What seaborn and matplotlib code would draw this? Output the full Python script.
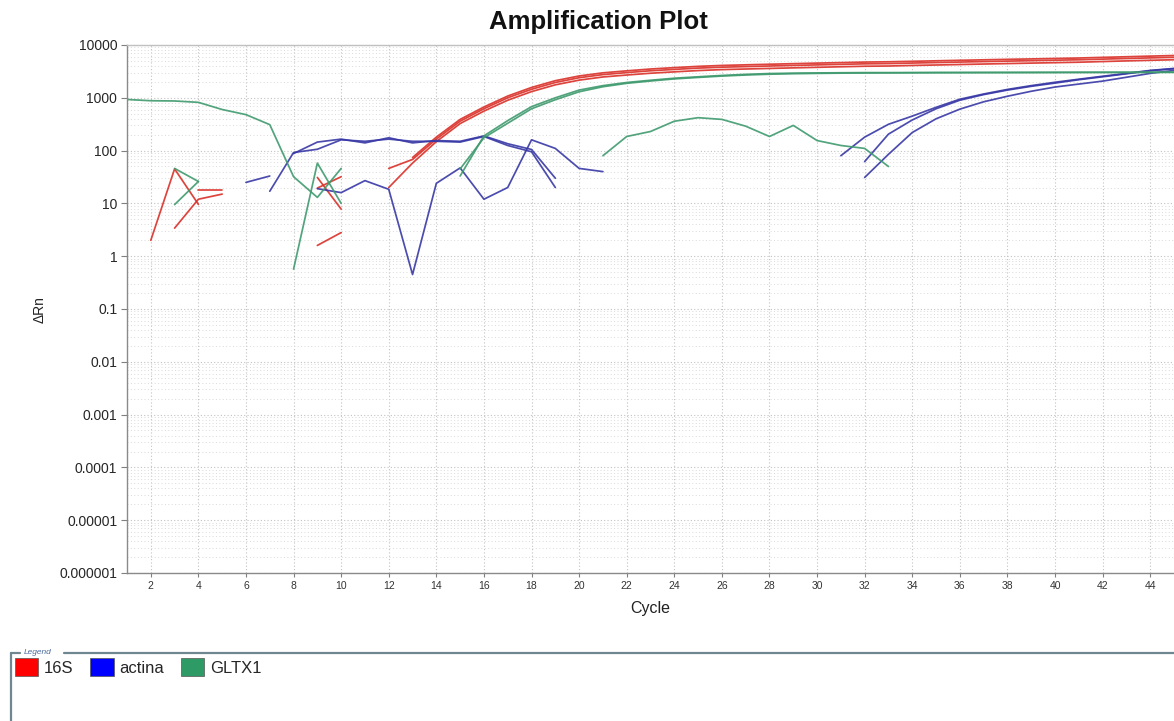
import numpy as np
import pandas as pd
import seaborn as sns
import matplotlib
matplotlib.use("Agg")
import matplotlib.pyplot as plt
from matplotlib.patches import Patch
from matplotlib.lines import Line2D
from matplotlib.ticker import FixedLocator, FixedFormatter, LogLocator, NullFormatter

# ---------------- data ----------------
targets = ["16S", "actina", "GLTX1"]

# 16S wells: (first cycle, dRn per cycle)
s16_frag_a = (2, [2.0, 45, 9.6])
s16_frag_b = (3, [3.4, 12, 15])
s16_frag_c = (4, [18, 18])
s16_frag_d = (9, [31, 7.8])
s16_frag_e = (9, [19.5, 32])
s16_frag_f = (9, [1.6, 2.8])
s16_amp_1 = (12, [46, 68, 165, 360, 620, 1000, 1450, 1950, 2400, 2750,
                  3000, 3250, 3450, 3650, 3800, 3900, 4000, 4100, 4200, 4300,
                  4400, 4450, 4550, 4650, 4750, 4850, 4950, 5050, 5150, 5250,
                  5400, 5550, 5700, 5850])
s16_amp_2 = (12, [20, 58, 148, 325, 560, 900, 1310, 1760, 2160, 2480,
                  2700, 2920, 3100, 3280, 3420, 3510, 3600, 3690, 3780, 3870,
                  3960, 4000, 4100, 4180, 4270, 4360, 4450, 4540, 4630, 4720,
                  4860, 5000, 5130, 5260])
s16_amp_3 = (13, [74, 180, 390, 670, 1080, 1570, 2110, 2590, 2970, 3240,
                  3510, 3730, 3940, 4100, 4210, 4320, 4430, 4540, 4640, 4750,
                  4810, 4910, 5020, 5130, 5240, 5350, 5450, 5560, 5670, 5830,
                  5990, 6160, 6320])

# actina wells
act_frag_a = (6, [25, 33])
act_flat_1 = (7, [17, 92, 106, 160, 150, 165, 150, 150, 145, 185, 125, 95, 20])
act_flat_2 = (8, [88, 145, 165, 140, 175, 140, 155, 150, 190, 135, 105, 30])
act_dip = (9, [19, 16, 27, 18.5, 0.45, 24, 47, 12, 20, 160, 110, 46, 40])
act_amp_1 = (31, [80, 180, 315, 450, 660, 940, 1180, 1440, 1700, 1970,
                  2250, 2560, 2900, 3300, 3600])
act_amp_2 = (32, [62, 205, 380, 620, 900, 1150, 1400, 1650, 1900, 2200,
                  2500, 2850, 3250, 3550])
act_amp_3 = (32, [31, 85, 220, 400, 610, 840, 1070, 1330, 1600, 1820,
                  2070, 2450, 2900, 3300])

# GLTX1 wells
gltx_decay = (1, [930, 880, 870, 820, 600, 480, 310, 32, 13, 46])
gltx_frag_a = (8, [0.57, 58, 10])
gltx_frag_b = (3, [46, 26])
gltx_frag_c = (3, [9.5, 26])
gltx_amp_1 = (15, [33, 190, 370, 680, 1000, 1400, 1700, 1950, 2150, 2350,
                   2500, 2650, 2780, 2880, 2930, 2960, 2980, 3000, 3000, 3010,
                   3020, 3020, 3030, 3030, 3040, 3040, 3050, 3050, 3050, 3060,
                   3060])
gltx_amp_2 = (15, [45, 175, 330, 620, 920, 1300, 1620, 1880, 2080, 2280,
                   2430, 2580, 2700, 2800, 2860, 2900, 2930, 2950, 2960, 2970,
                   2980, 2990, 2990, 3000, 3000, 3010, 3010, 3020, 3020, 3020,
                   3030])
gltx_noisy = (21, [80, 185, 230, 360, 420, 390, 290, 185, 300, 155, 125, 110, 50])

y_tick_values = [1e-6, 1e-5, 1e-4, 1e-3, 1e-2, 1e-1, 1, 10, 100, 1000, 10000]
y_tick_labels = ["0.000001", "0.00001", "0.0001", "0.001", "0.01", "0.1",
                 "1", "10", "100", "1000", "10000"]
x_tick_values = list(range(2, 45, 2))

wells = {
    "16S": [s16_frag_a, s16_frag_b, s16_frag_c, s16_frag_d, s16_frag_e,
            s16_frag_f, s16_amp_1, s16_amp_2, s16_amp_3],
    "actina": [act_frag_a, act_flat_1, act_flat_2, act_dip,
               act_amp_1, act_amp_2, act_amp_3],
    "GLTX1": [gltx_decay, gltx_frag_a, gltx_frag_b, gltx_frag_c,
              gltx_amp_1, gltx_amp_2, gltx_noisy],
}

rows = []
uid = 0
for tgt in targets:
    for start, vals in wells[tgt]:
        for k, v in enumerate(vals):
            rows.append({"target": tgt, "trace": uid, "cycle": start + k, "dRn": v})
        uid += 1
df = pd.DataFrame(rows)

# ---------------- styling ----------------
sns.set_style("white")
plt.rcParams["font.family"] = ["Liberation Sans", "DejaVu Sans"]

line_colors = {"16S": "#da3028", "actina": "#3838a6", "GLTX1": "#3f9a6e"}
legend_colors = {"16S": "#ff0000", "actina": "#0000ff", "GLTX1": "#2e9a66"}

fig = plt.figure(figsize=(11.74, 7.21), dpi=100)
ax = fig.add_axes([127 / 1174, (721 - 573) / 721, 1 - 127 / 1174, (573 - 45) / 721])

ax.set_yscale("log")
ax.set_ylim(1e-6, 1e4)
ax.set_xlim(1, 45)

# dotted grid under the traces
ax.set_axisbelow(True)
ax.yaxis.set_minor_locator(LogLocator(base=10, subs=np.arange(2, 10), numticks=100))
ax.yaxis.set_minor_formatter(NullFormatter())
ax.grid(which="major", axis="both", linestyle=(0, (1, 2)), color="#c2c2c2", lw=0.8)
ax.grid(which="minor", axis="y", linestyle=(0, (1, 2.5)), color="#dadada", lw=0.7)

sns.lineplot(data=df, x="cycle", y="dRn", hue="target", units="trace",
             estimator=None, palette=line_colors, sort=False, lw=1.25,
             alpha=0.9, legend=False, ax=ax)

ax.yaxis.set_major_locator(FixedLocator(y_tick_values))
ax.yaxis.set_major_formatter(FixedFormatter(y_tick_labels))
ax.xaxis.set_major_locator(FixedLocator(x_tick_values))
ax.tick_params(axis="y", which="major", labelsize=10, length=4, width=0.8,
               color="#808080", pad=3, left=True)
ax.tick_params(axis="y", which="minor", length=0, left=False)
ax.tick_params(axis="x", which="major", labelsize=7.5, length=3, width=0.8,
               color="#808080", pad=3, bottom=True, labelcolor="#333333")

for side in ["left", "bottom"]:
    ax.spines[side].set_color("#8a8a8a")
    ax.spines[side].set_linewidth(1.0)
ax.spines["top"].set_color("#c0c0c0")
ax.spines["top"].set_linewidth(1.0)
ax.spines["right"].set_visible(False)

ax.set_xlabel("")
ax.set_ylabel("")
fig.text(650 / 1174, 1 - 608 / 721, "Cycle", ha="center", va="center",
         fontsize=11.5, color="#222222")
fig.text(40 / 1174, 1 - 310 / 721, "\u0394Rn", ha="center", va="center",
         rotation=90, fontsize=10, color="#222222")
fig.text(598 / 1174, 1 - 22 / 721, "Amplification Plot", ha="center",
         va="center", fontsize=18.5, fontweight="bold", color="#111111")

# legend panel
frame_color = "#6f8790"
def fig_line(x0, y0, x1, y1):
    fig.add_artist(Line2D([x0 / 1174, x1 / 1174], [1 - y0 / 721, 1 - y1 / 721],
                          transform=fig.transFigure, color=frame_color, lw=1.6))

fig_line(11, 653, 20, 653)
fig_line(64, 653, 1174, 653)
fig_line(11, 653, 11, 721)
fig.text(24 / 1174, 1 - 652 / 721, "Legend", ha="left", va="center",
         fontsize=6, color="#4a6a9a", style="italic")

handles = [Patch(facecolor=legend_colors[t], edgecolor="#555555", lw=0.5, label=t)
           for t in targets]
fig.legend(handles=handles, loc="upper left",
           bbox_to_anchor=(5 / 1174, 1 - 648 / 721), ncol=3, frameon=False,
           fontsize=12, handlelength=1.4, handleheight=1.3,
           handletextpad=0.35, columnspacing=1.0, borderaxespad=0.2)

fig.savefig("out.png", dpi=100)
